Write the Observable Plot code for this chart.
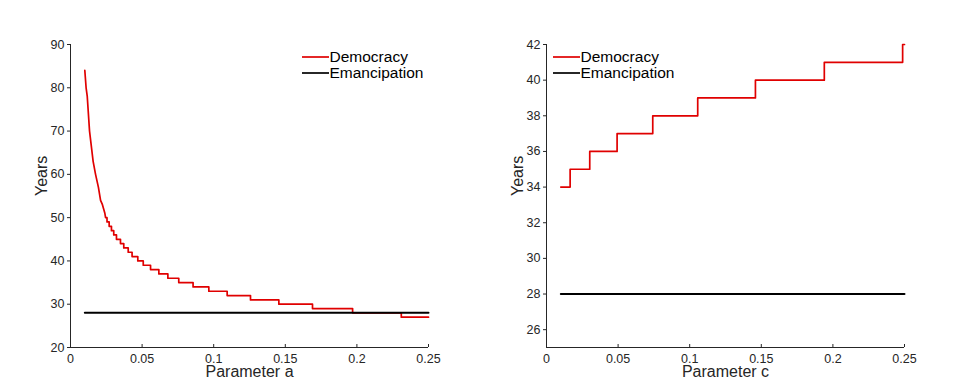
<!DOCTYPE html>
<html>
<head>
<meta charset="utf-8">
<script src="https://cdn.jsdelivr.net/npm/d3@7"></script>
<script src="https://cdn.jsdelivr.net/npm/@observablehq/plot@0.6"></script>
<style>
  body { margin: 0; background: #fff; font-family: "Liberation Sans", Arial, Helvetica, sans-serif; }
  #wrap { position: relative; width: 969px; height: 391px; }
  .panel { position: absolute; top: 0; }
  .legend { position: absolute; font-size: 15.5px; line-height: 16px; color: #000; }
  .legend .row { display: flex; align-items: center; height: 16px; white-space: nowrap; }
  .legend svg { display: block; margin-right: 1px; }
</style>
</head>
<body>
<div id="wrap"></div>
<script>
// ---------- data ----------
const xTicks = [0, 0.05, 0.1, 0.15, 0.2, 0.25];
const yTicksA = [20, 30, 40, 50, 60, 70, 80, 90];
const yTicksC = [26, 28, 30, 32, 34, 36, 38, 40, 42];

const paramStart = 0.01;
const paramEnd = 0.25;
const emancipationYears = 28;

// Left panel, steep (smooth-looking) part of the Democracy curve
const curveA_param = [0.0100, 0.0109, 0.0117, 0.0133, 0.0158, 0.0175, 0.0195, 0.0210, 0.0223, 0.0240];
const curveA_years = [84, 80, 78, 70, 63, 60, 57, 54, 53, 51];

// Left panel, stepped part: parameter a where each value starts
const stepA_start = [0.0245, 0.0255, 0.0270, 0.0286, 0.0302, 0.0321, 0.0349, 0.0372, 0.0403, 0.0430,
                     0.0470, 0.0508, 0.0559, 0.0617, 0.0680, 0.0756, 0.0856, 0.0966, 0.1094, 0.1257,
                     0.1455, 0.1690, 0.1970, 0.2310];
const stepA_years = [50, 49, 48, 47, 46, 45, 44, 43, 42, 41,
                     40, 39, 38, 37, 36, 35, 34, 33, 32, 31,
                     30, 29, 28, 27];

// Right panel, stepped Democracy curve: parameter c where each value starts
const stepC_start = [0.0100, 0.0165, 0.0302, 0.0493, 0.0742, 0.1056, 0.1459, 0.1940, 0.2487];
const stepC_years = [34, 35, 36, 37, 38, 39, 40, 41, 42];

// ---------- build series ----------
function stepVertices(starts, years, end) {
  const out = [];
  starts.forEach((s, i) => {
    const next = i + 1 < starts.length ? starts[i + 1] : end;
    out.push({x: s, y: years[i]});
    out.push({x: next, y: years[i]});
  });
  return out;
}
const demA = curveA_param.map((p, i) => ({x: p, y: curveA_years[i]}))
  .concat(stepVertices(stepA_start, stepA_years, paramEnd));
const demC = stepVertices(stepC_start, stepC_years, paramEnd);
const emanc = [{x: paramStart, y: emancipationYears}, {x: paramEnd, y: emancipationYears}];

const RED = "#e00000";
const AXIS = "#262626";
const FONT = '"Liberation Sans", Arial, Helvetica, sans-serif';
const W = 480, H = 391, ML = 70, MR = 52, MT = 44, MB = 44;
const frameH = H - MT - MB;

function panel(dem, yDomain, yTicks, xLabel) {
  return Plot.plot({
    width: W, height: H,
    marginLeft: ML, marginRight: MR, marginTop: MT, marginBottom: MB,
    style: {fontFamily: FONT, fontSize: "12.5px", color: AXIS, background: "transparent", overflow: "visible"},
    x: {domain: [0, 0.25]},
    y: {domain: yDomain},
    marks: [
      Plot.ruleX([0], {stroke: AXIS, strokeWidth: 1}),
      Plot.ruleY([yDomain[0]], {stroke: AXIS, strokeWidth: 1}),
      Plot.ruleX(xTicks, {stroke: AXIS, strokeWidth: 1, insetTop: frameH - 3}),
      Plot.axisX({ticks: xTicks, tickSize: 0, tickPadding: 7, fontSize: 12.5, tickFormat: d => String(d), label: null, fill: AXIS}),
      Plot.axisY({ticks: yTicks, tickSize: 3, tickPadding: 3, fontSize: 12.5, label: null, stroke: AXIS, fill: AXIS}),
      Plot.text([xLabel], {text: d => d, frameAnchor: "bottom", dy: 29, fontSize: 16, fill: AXIS}),
      Plot.text(["Years"], {text: d => d, frameAnchor: "left", rotate: -90, dx: -29, fontSize: 16, fill: AXIS}),
      Plot.line(dem, {x: "x", y: "y", stroke: RED, strokeWidth: 1.7}),
      Plot.line(emanc, {x: "x", y: "y", stroke: "#000", strokeWidth: 2})
    ]
  });
}

const wrap = document.getElementById("wrap");
const left = panel(demA, [20, 90], yTicksA, "Parameter a");
left.classList.add("panel");
left.style.left = "0px";
wrap.appendChild(left);

const right = panel(demC, [25, 42], yTicksC, "Parameter c");
right.classList.add("panel");
right.style.left = "476px";
wrap.appendChild(right);

// legends
const legendItems = [["Democracy", RED], ["Emancipation", "#000"]];
function legend(x, y) {
  const div = document.createElement("div");
  div.className = "legend";
  div.style.left = x + "px";
  div.style.top = y + "px";
  legendItems.forEach(([name, color]) => {
    const row = document.createElement("div");
    row.className = "row";
    row.innerHTML = `<svg width="27" height="4"><line x1="0" x2="27" y1="2" y2="2" stroke="${color}" stroke-width="1.7"/></svg><span>${name}</span>`;
    div.appendChild(row);
  });
  wrap.appendChild(div);
}
legend(301.5, 48.7);
legend(552.5, 48.7);
</script>
</body>
</html>
